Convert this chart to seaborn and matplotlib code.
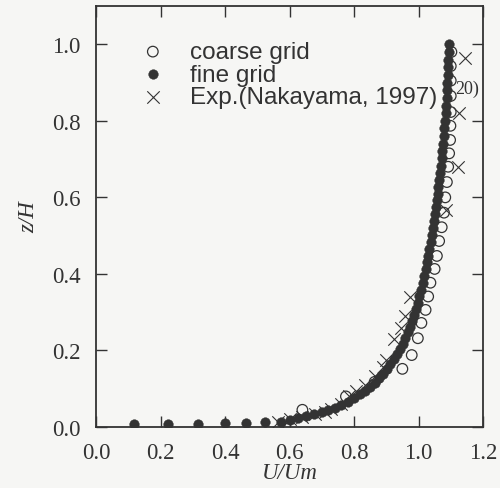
import matplotlib
matplotlib.use("Agg")
import matplotlib.pyplot as plt
import seaborn as sns
import pandas as pd

# fine grid (filled dots)
fine_u = [0.118, 0.224, 0.317, 0.401, 0.466, 0.525, 0.575, 0.600, 0.625, 0.650,
          0.675, 0.700, 0.720, 0.740, 0.760, 0.780, 0.800, 0.818, 0.835, 0.850,
          0.865, 0.878, 0.890, 0.902, 0.913, 0.923, 0.933, 0.942, 0.951, 0.959,
          0.966, 0.973, 0.980, 0.986, 0.992, 0.998, 1.003, 1.008, 1.013, 1.018,
          1.022, 1.026, 1.030, 1.034, 1.038, 1.041, 1.044, 1.047, 1.050, 1.053,
          1.056, 1.059, 1.062, 1.065, 1.067, 1.069, 1.072, 1.074, 1.076, 1.078,
          1.080, 1.082, 1.084, 1.086, 1.087, 1.088, 1.089, 1.090, 1.092, 1.093,
          1.094, 1.095]
fine_z = [0.008, 0.008, 0.009, 0.010, 0.011, 0.012, 0.012, 0.018, 0.024, 0.029,
          0.034, 0.039, 0.045, 0.051, 0.058, 0.066, 0.075, 0.085, 0.095, 0.105,
          0.116, 0.127, 0.139, 0.151, 0.164, 0.177, 0.190, 0.204, 0.218, 0.232,
          0.247, 0.262, 0.277, 0.293, 0.309, 0.325, 0.342, 0.359, 0.376, 0.394,
          0.412, 0.430, 0.448, 0.466, 0.484, 0.502, 0.520, 0.538, 0.556, 0.574,
          0.592, 0.610, 0.628, 0.646, 0.664, 0.683, 0.702, 0.721, 0.740, 0.760,
          0.780, 0.800, 0.820, 0.840, 0.860, 0.880, 0.900, 0.920, 0.940, 0.960,
          0.980, 1.000]

# coarse grid (open circles)
coarse_u = [0.640, 0.775, 0.864, 0.950, 0.979, 0.998, 1.009, 1.022, 1.030, 1.037,
            1.050, 1.057, 1.064, 1.072, 1.079, 1.083, 1.088, 1.092, 1.095, 1.098,
            1.099, 1.100, 1.100, 1.100, 1.100, 1.102]
coarse_z = [0.045, 0.080, 0.118, 0.152, 0.188, 0.232, 0.272, 0.306, 0.341, 0.377,
            0.413, 0.447, 0.486, 0.522, 0.560, 0.600, 0.640, 0.680, 0.715, 0.750,
            0.787, 0.823, 0.865, 0.905, 0.943, 0.980]

# experiment (crosses)
exp_u = [0.563, 0.600, 0.640, 0.680, 0.710, 0.730, 0.760, 0.786, 0.807, 0.833,
         0.864, 0.890, 0.900, 0.925, 0.947, 0.957, 0.975, 1.085, 1.122, 1.125, 1.144]
exp_z = [0.013, 0.020, 0.026, 0.033, 0.040, 0.047, 0.060, 0.082, 0.095, 0.110,
         0.134, 0.157, 0.175, 0.230, 0.260, 0.291, 0.340, 0.567, 0.680, 0.820, 0.965]

labels = ["coarse grid", "fine grid", "Exp.(Nakayama, 1997)"]
xticks = [0.0, 0.2, 0.4, 0.6, 0.8, 1.0, 1.2]
yticks = [0.0, 0.2, 0.4, 0.6, 0.8, 1.0]

sns.set_style("ticks")
plt.rcParams["font.family"] = ["Liberation Serif", "DejaVu Serif"]

bg = "#f6f6f4"
ink = "#333333"
fig = plt.figure(figsize=(5.0, 4.89), dpi=100, facecolor=bg)
ax = fig.add_axes([0.192, 0.1247, 0.774, 0.861])
ax.set_facecolor(bg)

df_c = pd.DataFrame({"u": coarse_u, "z": coarse_z})
df_f = pd.DataFrame({"u": fine_u, "z": fine_z})
df_e = pd.DataFrame({"u": exp_u, "z": exp_z})

sns.scatterplot(data=df_c, x="u", y="z", ax=ax, marker="o", s=58,
                facecolors="none", edgecolor=ink, linewidth=0.9, label=labels[0], zorder=2)
sns.scatterplot(data=df_f, x="u", y="z", ax=ax, marker="o", s=48,
                color=ink, edgecolor=ink, linewidth=0.3, label=labels[1], zorder=3)
sns.scatterplot(data=df_e, x="u", y="z", ax=ax, marker="x", s=80,
                color=ink, linewidth=0.8, label=labels[2], zorder=4)

ax.set_xlim(0, 1.2)
ax.set_ylim(0, 1.1)
ax.set_xticks(xticks)
ax.set_yticks(yticks)
ax.set_xticklabels([f"{t:.1f}" for t in xticks])
ax.set_yticklabels([f"{t:.1f}" for t in yticks])
ax.tick_params(direction="in", length=8, width=1.0, color=ink, labelsize=16.5,
               labelcolor=ink, top=True, right=True, pad=11)
for sp in ax.spines.values():
    sp.set_visible(True)
    sp.set_color(ink)
    sp.set_linewidth(1.3)

ax.set_xlabel("U/Um", fontsize=16.5, style="italic", color=ink, labelpad=-1)
ax.set_ylabel("z/H", fontsize=16.5, style="italic", color=ink, labelpad=9)

leg = ax.legend(loc="upper left", bbox_to_anchor=(0.084, 0.94), frameon=False,
                prop={"family": "Liberation Sans", "size": 17.5},
                handletextpad=0.93, labelspacing=0.03, borderaxespad=0,
                handlelength=1.2, markerscale=1.0)
for t in leg.get_texts():
    t.set_color(ink)

fig.text(455 / 500, 1 - 89 / 489, "20)", fontsize=13, color=ink,
         va="center", ha="left")

fig.savefig("out.png", dpi=100, facecolor=bg)
